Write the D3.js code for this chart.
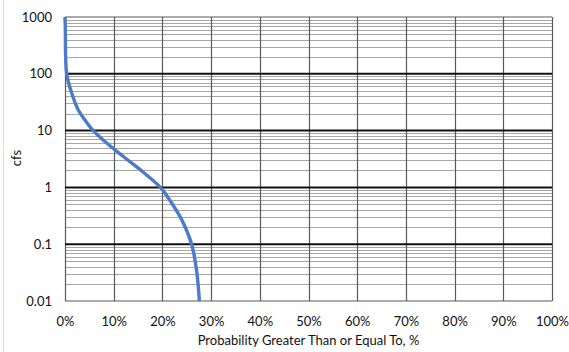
<!DOCTYPE html>
<html>
<head>
<meta charset="utf-8">
<script src="https://cdn.jsdelivr.net/npm/d3@7"></script>
<style>
  body { margin: 0; background: #fff; }
  text { font-family: "Lato", "Open Sans", sans-serif; fill: #111; }
</style>
</head>
<body>
<div id="chart"></div>
<script>
// exceedance curve (percent, cfs)
var probPct = [0, 0.06, 0.35, 1.37, 2.73, 4.1, 5.8, 8.56, 12.1, 16.0, 19.6, 21.9, 24.0, 26.0, 27.0, 27.6];
var flowCfs = [1000, 667, 100, 45.9, 23.0, 15.4, 10, 6.05, 3.43, 1.87, 1.0, 0.531, 0.267, 0.1, 0.0356, 0.01];

var xTicks = [0, 10, 20, 30, 40, 50, 60, 70, 80, 90, 100];
var yTicks = [0.01, 0.1, 1, 10, 100, 1000];
var yTickLabels = ["0.01", "0.1", "1", "10", "100", "1000"];

var W = 569, H = 352;
var margin = { top: 17, left: 65, right: 17, bottom: 51 };
var width = W - margin.left - margin.right,
    height = H - margin.top - margin.bottom;

var svg = d3.select("#chart").append("svg")
    .attr("width", W)
    .attr("height", H);

// faint frame of the picture
svg.append("line")
    .attr("x1", 3.5).attr("x2", 3.5)
    .attr("y1", 0).attr("y2", H)
    .attr("stroke", "#ddd");

var g = svg.append("g")
    .attr("transform", "translate(" + margin.left + "," + margin.top + ")");

var x = d3.scaleLinear().domain([0, 100]).range([0, width]);
var y = d3.scaleLog().domain([0.01, 1000]).range([height, 0]);

// minor horizontal grid (2..9 in each decade)
var minor = [];
yTicks.slice(0, -1).forEach(function(d) {
  for (var k = 2; k <= 9; k++) minor.push(d * k);
});
g.selectAll(".minor")
  .data(minor)
  .enter().append("line")
  .attr("class", "minor")
  .attr("x1", 0).attr("x2", width)
  .attr("y1", function(d) { return Math.round(y(d)) + 0.5; })
  .attr("y2", function(d) { return Math.round(y(d)) + 0.5; })
  .attr("stroke", "#a6a6a6")
  .attr("stroke-width", 1);

// vertical grid
g.selectAll(".vgrid")
  .data(xTicks)
  .enter().append("line")
  .attr("class", "vgrid")
  .attr("x1", function(d) { return Math.round(x(d)) + 0.5; })
  .attr("x2", function(d) { return Math.round(x(d)) + 0.5; })
  .attr("y1", 0).attr("y2", height)
  .attr("stroke", "#595959")
  .attr("stroke-width", 1.2);

// major horizontal grid
g.selectAll(".major")
  .data(yTicks)
  .enter().append("line")
  .attr("class", "major")
  .attr("x1", 0).attr("x2", width)
  .attr("y1", function(d) { return y(d); })
  .attr("y2", function(d) { return y(d); })
  .attr("stroke", function(d) { return (d === 1000 || d === 0.01) ? "#595959" : "#111"; })
  .attr("stroke-width", function(d) { return (d === 1000 || d === 0.01) ? 1.2 : 2; });

// axes (labels only)
var xAxis = d3.axisBottom(x)
    .tickValues(xTicks)
    .tickSize(0)
    .tickPadding(16)
    .tickFormat(function(d) { return d + "%"; });
g.append("g")
  .attr("transform", "translate(0," + height + ")")
  .call(xAxis)
  .call(function(s) { s.select(".domain").remove(); })
  .selectAll("text")
  .style("font-size", "13px")
  .style("font-family", "Lato, sans-serif");

var yAxis = d3.axisLeft(y)
    .tickValues(yTicks)
    .tickSize(0)
    .tickPadding(13)
    .tickFormat(function(d, i) { return yTickLabels[i]; });
g.append("g")
  .call(yAxis)
  .call(function(s) { s.select(".domain").remove(); })
  .selectAll("text")
  .style("font-size", "13px")
  .style("font-family", "Lato, sans-serif");

// the curve
var pts = probPct.map(function(p, i) { return [p, flowCfs[i]]; });
var line = d3.line()
    .x(function(d) { return x(d[0]); })
    .y(function(d) { return y(d[1]); })
    .curve(d3.curveCatmullRom.alpha(0.5));
g.append("path")
  .datum(pts)
  .attr("d", line)
  .attr("fill", "none")
  .attr("stroke", "#4a7cc9")
  .attr("stroke-width", 3.4)
  .attr("stroke-linejoin", "round");

// axis titles
svg.append("text")
  .attr("x", margin.left + width / 2)
  .attr("y", 345)
  .attr("text-anchor", "middle")
  .style("font-size", "13px")
  .text("Probability Greater Than or Equal To, %");

svg.append("text")
  .attr("transform", "translate(21,158) rotate(-90)")
  .attr("text-anchor", "middle")
  .style("font-size", "13px")
  .text("cfs");
</script>
</body>
</html>
